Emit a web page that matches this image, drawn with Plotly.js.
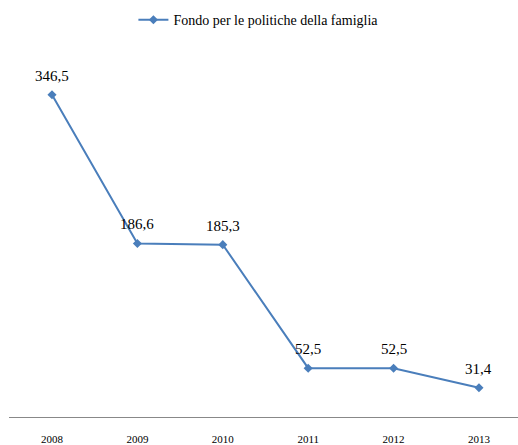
<!DOCTYPE html>
<html><head><meta charset="utf-8">
<script src="https://cdn.plot.ly/plotly-3.0.1.min.js"></script>
<style>html,body{margin:0;padding:0;background:#fff}</style>
</head><body>
<div id="chart" style="width:518px;height:445px"></div>
<script>
const years = ["2008","2009","2010","2011","2012","2013"];
const values = [346.5, 186.6, 185.3, 52.5, 52.5, 31.4];
const labels = ["346,5","186,6","185,3","52,5","52,5","31,4"];
const seriesName = "Fondo per le politiche della famiglia";

const trace = {
  x: years, y: values, type: 'scatter', mode: 'lines+markers',
  name: seriesName,
  line: {color: '#4a7ebb', width: 2},
  marker: {symbol: 'diamond', size: 7, color: '#4a7ebb'},
  cliponaxis: false
};
const annotations = labels.map((lab, i) => ({
  x: i, y: values[i], xref: 'x', yref: 'y', text: lab, showarrow: false,
  xanchor: 'center', yanchor: 'bottom', yshift: 9,
  font: {family: 'Liberation Serif, serif', size: 15, color: '#000'}
}));
const layout = {
  width: 518, height: 445,
  margin: {l: 9, r: 0, t: 45, b: 28},
  paper_bgcolor: '#fff', plot_bgcolor: '#fff',
  font: {family: 'Liberation Serif, serif', color: '#000'},
  showlegend: true,
  legend: {orientation: 'h', x: 0.49, xanchor: 'center', y: 1.067, yanchor: 'middle', yref: 'paper',
           font: {size: 14, family: 'Liberation Serif, serif'}},
  annotations: annotations,
  xaxis: {type: 'category', categoryarray: years, range: [-0.5035, 5.457], showgrid: false, zeroline: false,
          showline: true, linecolor: '#888', linewidth: 1, ticks: '',
          tickfont: {size: 11, family: 'Liberation Serif, serif'}, ticklabelstandoff: 12},
  yaxis: {range: [0, 400], showgrid: false, zeroline: false, showline: false, showticklabels: false}
};
Plotly.newPlot('chart', [trace], layout, {displayModeBar: false, staticPlot: true});
</script>
</body></html>
